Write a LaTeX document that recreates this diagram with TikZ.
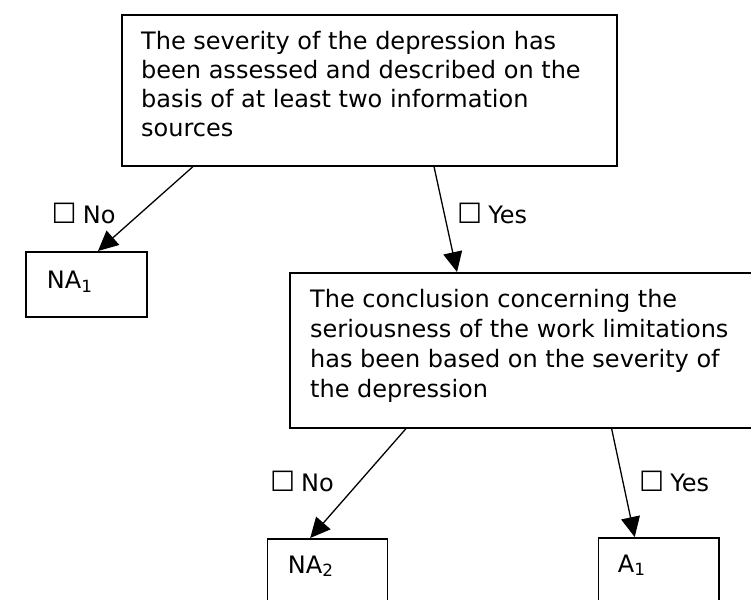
\documentclass[tikz,border=0pt]{standalone}
\usepackage{fontspec}
\setmainfont{DejaVu Sans}
\usetikzlibrary{arrows.meta,calc}
\newcommand{\tickbox}{{\fontsize{28}{28}\selectfont ☐}}
\begin{document}
\begin{tikzpicture}[x=1pt,y=1pt,
  box/.style={draw, line width=1.6pt, rectangle, inner sep=0pt, anchor=north west},
  txt/.style={inner sep=0pt, align=left, anchor=north west, font=\fontsize{24}{28.8}\selectfont},
  single/.style={inner sep=0pt, anchor=base west, font=\fontsize{24}{28.8}\selectfont},
  answer/.style={inner sep=0pt, anchor=base west, font=\fontsize{24}{28.8}\selectfont},
  flow/.style={line width=1.3pt, -{Triangle[length=20pt,width=19pt]}}]
\useasboundingbox (0,0) rectangle (751,-599);

% question boxes
\node[box, minimum width=495pt, minimum height=151pt] (q1) at (121,-14) {};
\node[txt] (q1text) at ($(q1.north west)+(20,-17.5)$)
  {The severity of the depression has\\
   been assessed and described on the\\
   basis of at least two information\\
   sources};

\node[box, minimum width=480pt, minimum height=155pt] (q2) at (289,-272) {};
\node[txt, font=\fontsize{24}{29.8}\selectfont] (q2text) at ($(q2.north west)+(21,-17.3)$)
  {The conclusion concerning the\\
   seriousness of the work limitations\\
   has been based on the severity of\\
   the depression};

% outcome boxes
\node[box, minimum width=121pt, minimum height=65pt] (na1) at (25,-251) {};
\node[single] (na1text) at ($(na1.north west)+(21.7,-37.3)$) {NA\textsubscript{1}};

\node[box, minimum width=120pt, minimum height=80pt] (na2) at (266.7,-538) {};
\node[single] (na2text) at ($(na2.north west)+(21,-35)$) {NA\textsubscript{2}};

\node[box, minimum width=120.3pt, minimum height=80pt] (a1) at (597.7,-537) {};
\node[single] (a1text) at ($(a1.north west)+(20,-35)$) {A\textsubscript{1}};

% connectors
\draw[flow] ($(q1.south west)+(72,0)$) -- ($(na1.north west)+(73,0)$);
\draw[flow] ($(q1.south west)+(313,0)$) -- ($(q2.north west)+(168,0)$);
\draw[flow] ($(q2.south west)+(117,0)$) -- ($(na2.north west)+(43.5,0)$);
\draw[flow] ($(q2.south west)+(322.6,0)$) -- ($(a1.north west)+(37,0)$);

% answer labels
\node[answer] (l1) at (51.5,-223.3) {\tickbox\hspace{6pt}No};
\node[answer] (l2) at (457,-223.3) {\tickbox\hspace{6pt}Yes};
\node[answer] (l3) at (269.8,-491.5) {\tickbox\hspace{6pt}No};
\node[answer] (l4) at (639,-491.5) {\tickbox\hspace{6pt}Yes};
\end{tikzpicture}
\end{document}
